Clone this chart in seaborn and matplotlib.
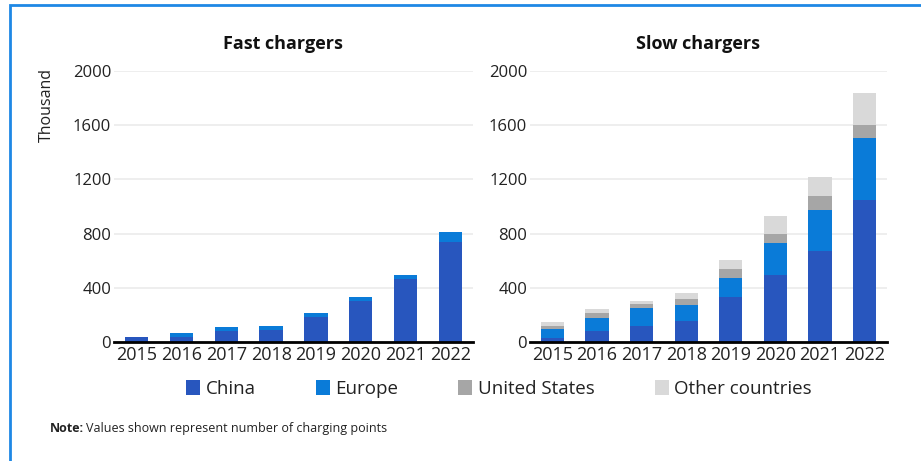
import numpy as np
import pandas as pd
import matplotlib
matplotlib.use("Agg")
import matplotlib.pyplot as plt
from matplotlib.patches import Patch, Rectangle
import seaborn as sns

years = ["2015", "2016", "2017", "2018", "2019", "2020", "2021", "2022"]
regions = ["China", "Europe", "United States", "Other countries"]
colors = ["#2856be", "#0a7bd8", "#a6a6a6", "#d9d9d9"]

# Fast chargers (thousand)
fast_china = [37, 39, 84, 91, 187, 305, 467, 740]
fast_europe = [3, 30, 27, 29, 29, 29, 29, 73]
fast_us = [0, 0, 0, 0, 0, 0, 0, 0]
fast_other = [0, 0, 0, 0, 0, 0, 0, 0]

# Slow chargers (thousand)
slow_china = [32, 84, 120, 157, 329, 496, 668, 1049]
slow_europe = [66, 95, 133, 118, 145, 236, 307, 460]
slow_us = [20, 32, 25, 44, 62, 67, 104, 93]
slow_other = [32, 35, 27, 45, 71, 132, 140, 236]

yticks = [0, 400, 800, 1200, 1600, 2000]

sns.set_theme(style="white")
plt.rcParams["font.family"] = ["Open Sans", "DejaVu Sans"]

fig = plt.figure(figsize=(9.21, 4.61), dpi=100)

# thin blue frame along top and left edges
fig.patches.append(Rectangle((10 / 921, -0.1), 1.2, (461 - 5) / 461 + 0.1,
                             transform=fig.transFigure, fill=False,
                             edgecolor="#1e88e5", linewidth=2.0, zorder=0))

ax_fast = fig.add_axes([114 / 921, 119 / 461, 359 / 921, 271 / 461])
ax_slow = fig.add_axes([530 / 921, 119 / 461, 357 / 921, 271 / 461])


def stacked(ax, series, title):
    df = pd.DataFrame({name: vals for name, vals in zip(regions, series)})
    df["year"] = years
    cum = df[regions].cumsum(axis=1)
    # tallest cumulative layer first, each lower layer painted over it
    for name, col in reversed(list(zip(regions, colors))):
        sns.barplot(x=df["year"], y=cum[name], color=col, ax=ax,
                    width=0.52, saturation=1, linewidth=0, zorder=3)
    ax.set_ylim(0, 2000)
    ax.set_xlim(-0.5, len(years) - 0.5)
    ax.set_yticks(yticks)
    ax.set_yticklabels([str(t) for t in yticks])
    ax.grid(axis="y", color="#ebebeb", linewidth=1.2, zorder=0)
    ax.grid(axis="x", visible=False)
    for s in ["top", "right", "left"]:
        ax.spines[s].set_visible(False)
    ax.spines["bottom"].set_color("black")
    ax.spines["bottom"].set_linewidth(2)
    ax.spines["bottom"].set_zorder(5)
    ax.tick_params(axis="y", length=0, pad=2, labelsize=12, labelcolor="#222222")
    ax.tick_params(axis="x", length=0, pad=3, labelsize=13, labelcolor="#222222")
    ax.set_xlabel("")
    ax.set_ylabel("")
    ax.set_title(title, fontsize=13, fontweight="bold", pad=16, color="#111111",
                 x=0.47)


stacked(ax_fast, [fast_china, fast_europe, fast_us, fast_other], "Fast chargers")
stacked(ax_slow, [slow_china, slow_europe, slow_us, slow_other], "Slow chargers")
ax_fast.set_ylabel("Thousand", fontsize=11.5, color="#222222", loc="top")
ax_fast.yaxis.set_label_coords(-0.165, 1.01)

handles = [Patch(facecolor=c, edgecolor="none") for c in colors]
fig.legend(handles, regions, loc="center", bbox_to_anchor=(499 / 921, 1 - 389 / 461),
           ncol=4, frameon=False, fontsize=13.5, handlelength=0.75, handleheight=0.9,
           handletextpad=0.3, columnspacing=3.2, labelcolor="#222222")

fig.text(50 / 921, 1 - 428 / 461, "Note:", fontsize=9, fontweight="bold",
         color="#222222", va="center", ha="left")
fig.text(86 / 921, 1 - 428 / 461, "Values shown represent number of charging points",
         fontsize=9, color="#222222", va="center", ha="left")

fig.savefig("out.png", dpi=100, facecolor="white")
